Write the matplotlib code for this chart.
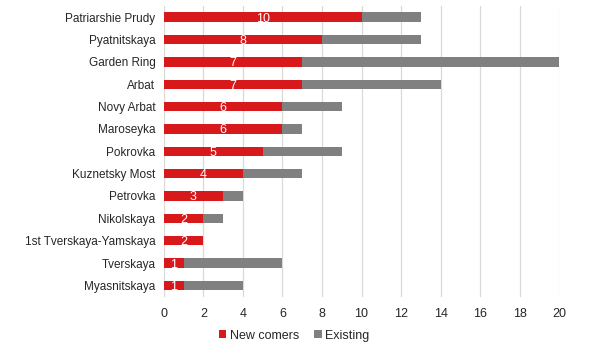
import numpy as np
import matplotlib; matplotlib.use("Agg")
import matplotlib.pyplot as plt

streets = ["Patriarshie Prudy", "Pyatnitskaya", "Garden Ring", "Arbat", "Novy Arbat",
           "Maroseyka", "Pokrovka", "Kuznetsky Most", "Petrovka", "Nikolskaya",
           "1st Tverskaya-Yamskaya", "Tverskaya", "Myasnitskaya"]
new_comers = [10, 8, 7, 7, 6, 6, 5, 4, 3, 2, 2, 1, 1]
existing = [3, 5, 13, 7, 3, 1, 4, 3, 1, 1, 0, 5, 3]

RED = "#d7191c"
GREY = "#808080"
plt.rcParams["font.family"] = ["Liberation Sans", "DejaVu Sans"]

fig = plt.figure(figsize=(6, 3.51), dpi=100)
ax = fig.add_axes([0.273, 0.155, 0.659, 0.828])
y = np.arange(len(streets))
b1 = ax.barh(y, new_comers, height=0.42, color=RED, label="New comers", zorder=3)
ax.barh(y, existing, left=new_comers, height=0.42, color=GREY, label="Existing", zorder=3)
for rect, v in zip(b1, new_comers):
    ax.text(rect.get_x() + rect.get_width() / 2, rect.get_y() + rect.get_height() / 2, str(v),
            ha="center", va="center_baseline", color="white", fontsize=9, zorder=4)

ax.set_yticks(y)
ax.set_yticklabels(streets, fontsize=8.5, color="#262626")
ax.set_ylim(len(streets) - 0.5, -0.5)
ax.set_xlim(0, 20)
ax.set_xticks(np.arange(0, 21, 2))
ax.tick_params(axis="x", labelsize=9, colors="#262626", length=0, pad=8)
ax.tick_params(axis="y", length=0, pad=6)
ax.grid(axis="x", color="#d9d9d9", lw=0.9, zorder=0)
for s in ax.spines.values():
    s.set_visible(False)

fig.legend(loc="lower center", bbox_to_anchor=(0.49, -0.005), ncol=2, frameon=False,
           fontsize=9, handlelength=0.6, handleheight=0.6, handletextpad=0.3,
           columnspacing=1.2, labelcolor="#262626")
fig.savefig("out.png", dpi=100)
